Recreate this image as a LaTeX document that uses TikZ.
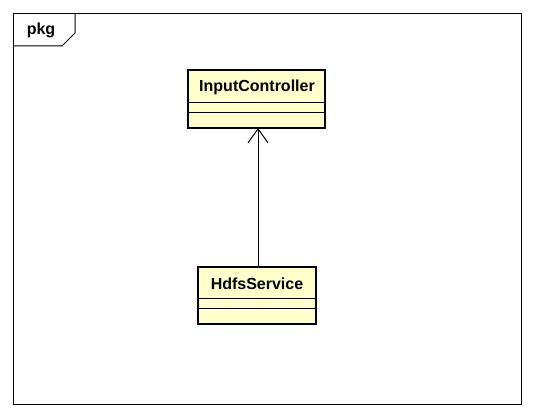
\documentclass[tikz,border=0pt]{standalone}
\usepackage{fontspec}
\setmainfont{Liberation Sans}
\usetikzlibrary{arrows.meta}
\definecolor{classfill}{RGB}{255,255,204}
\begin{document}
\begin{tikzpicture}[x=1pt,y=-1pt,
  frameline/.style={draw=black,line width=1pt},
  classbox/.style={draw=black,line width=2.6pt,fill=classfill},
  sep/.style={draw=black,line width=1pt},
  lbl/.style={font=\fontsize{16}{18}\selectfont\bfseries,inner sep=0pt},
  dep/.style={draw=black,line width=1pt,-{Straight Barb[length=14pt,width=20pt,line width=1pt]}}]
\useasboundingbox (0,0) rectangle (534,417);
\fill[white] (0,0) rectangle (534,417);
% package frame
\draw[frameline] (13.5,13.5) rectangle (521.5,404.5);
\draw[frameline] (13.5,46) -- (62,46) -- (75,33) -- (75,13.5);
\node[lbl] (pkg) at (41,30) {pkg};
% InputController
\draw[classbox] (188,70) rectangle (325,128);
\draw[sep] (188,102) -- (325,102);
\draw[sep] (188,112) -- (325,112);
\node[lbl] (ic) at (257,87) {InputController};
\coordinate (icb) at (258,128);
% HdfsService
\draw[classbox] (198,267) rectangle (316,324);
\draw[sep] (198,298) -- (316,298);
\draw[sep] (198,308) -- (316,308);
\node[lbl] (hs) at (257,283.5) {HdfsService};
\coordinate (hst) at (258,267);
\draw[dep] (hst) -- (icb);
\end{tikzpicture}
\end{document}
